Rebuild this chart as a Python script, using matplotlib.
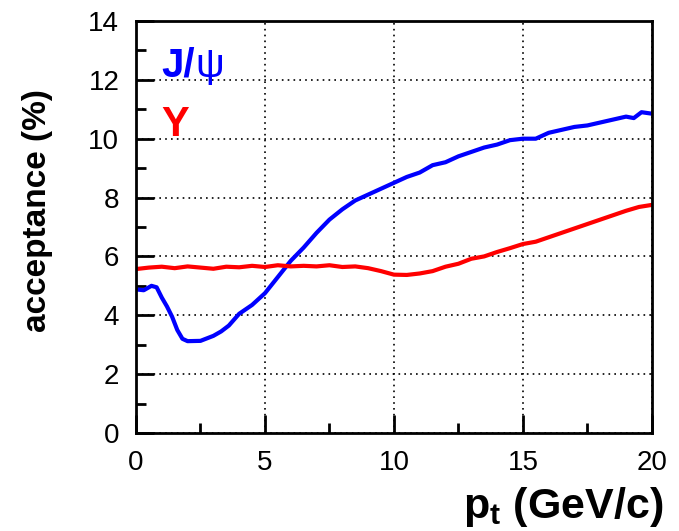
import matplotlib.pyplot as plt
import numpy as np

plt.rcParams['font.family'] = ['Liberation Sans', 'DejaVu Sans']
plt.rcParams['mathtext.fontset'] = 'custom'
plt.rcParams['mathtext.bf'] = 'Liberation Sans:bold'
plt.rcParams['mathtext.rm'] = 'Liberation Sans'

# p_t (GeV/c)
pt_jpsi = [0.0, 0.3, 0.6, 0.8, 1.0, 1.2, 1.4, 1.6, 1.8, 2.0, 2.5, 3.0, 3.3, 3.6,
           4.0, 4.5, 5.0, 5.5, 6.0, 6.5, 7.0, 7.5, 8.0, 8.5, 9.0, 9.5, 10.0,
           10.5, 11.0, 11.5, 12.0, 12.5, 13.0, 13.5, 14.0, 14.5, 15.0, 15.5,
           16.0, 16.5, 17.0, 17.5, 18.0, 18.5, 19.0, 19.3, 19.6, 20.0]
acc_jpsi = [4.88, 4.85, 5.0, 4.95, 4.6, 4.3, 3.95, 3.5, 3.2, 3.12, 3.13, 3.3,
            3.45, 3.65, 4.05, 4.35, 4.75, 5.3, 5.85, 6.3, 6.8, 7.25, 7.6, 7.9,
            8.1, 8.3, 8.5, 8.7, 8.85, 9.1, 9.2, 9.4, 9.55, 9.7, 9.8, 9.95,
            10.0, 10.0, 10.2, 10.3, 10.4, 10.45, 10.55, 10.65, 10.75, 10.7,
            10.9, 10.85]

pt_ups = [0.0, 0.5, 1.0, 1.5, 2.0, 2.5, 3.0, 3.5, 4.0, 4.5, 5.0, 5.5, 6.0, 6.5,
          7.0, 7.5, 8.0, 8.5, 9.0, 9.5, 10.0, 10.5, 11.0, 11.5, 12.0, 12.5,
          13.0, 13.5, 14.0, 14.5, 15.0, 15.5, 16.0, 16.5, 17.0, 17.5, 18.0,
          18.5, 19.0, 19.5, 20.0]
acc_ups = [5.57, 5.62, 5.65, 5.6, 5.66, 5.62, 5.58, 5.65, 5.63, 5.68, 5.64,
           5.7, 5.66, 5.68, 5.66, 5.7, 5.64, 5.66, 5.6, 5.5, 5.38, 5.37, 5.42,
           5.5, 5.65, 5.75, 5.92, 6.0, 6.15, 6.28, 6.42, 6.5, 6.65, 6.8, 6.95,
           7.1, 7.25, 7.4, 7.55, 7.68, 7.75]

fig = plt.figure(figsize=(6.79, 5.31), dpi=100)
ax = fig.add_axes([0.2003, 0.1846, 0.7597, 0.7759])

ax.plot(pt_jpsi, acc_jpsi, color='#0000ff', lw=3)
ax.plot(pt_ups, acc_ups, color='#ff0000', lw=3)

ax.set_xlim(0, 20)
ax.set_ylim(0, 14)
ax.set_xticks([0, 5, 10, 15, 20])
ax.set_yticks(np.arange(0, 15, 2))
ax.set_xticks(np.arange(0, 20.1, 2.5), minor=True)
ax.set_yticks(np.arange(0, 14.1, 1), minor=True)
ax.tick_params(which='both', direction='in', width=2, labelsize=20)
ax.tick_params(which='major', length=13, pad=12)
ax.tick_params(which='minor', length=7)
for s in ax.spines.values():
    s.set_linewidth(2)

ax.grid(True, which='major', color='black', linestyle=(0, (1, 2.5)), lw=1.2)

# legend-like labels
ax.text(1.0, 12.1, 'J/', color='#0000ff', fontsize=29, fontweight='bold')
ax.annotate('ψ', xy=(1.0, 12.1), xytext=(24.5, 0), textcoords='offset points',
            color='#0000ff', fontsize=29, va='baseline')
ax.text(1.0, 10.1, 'Υ', color='#ff0000', fontsize=30, fontweight='bold')

fig.text(38 / 679, 1 - 211 / 531, 'acceptance (%)', fontsize=24,
         fontweight='bold', rotation=90, ha='center', va='center')
fig.text(663 / 679, 1 - 507 / 531, r'p$_\mathbf{t}$ (GeV/c)', fontsize=31,
         fontweight='bold', ha='right', va='center')

fig.savefig('out.png', dpi=100)
